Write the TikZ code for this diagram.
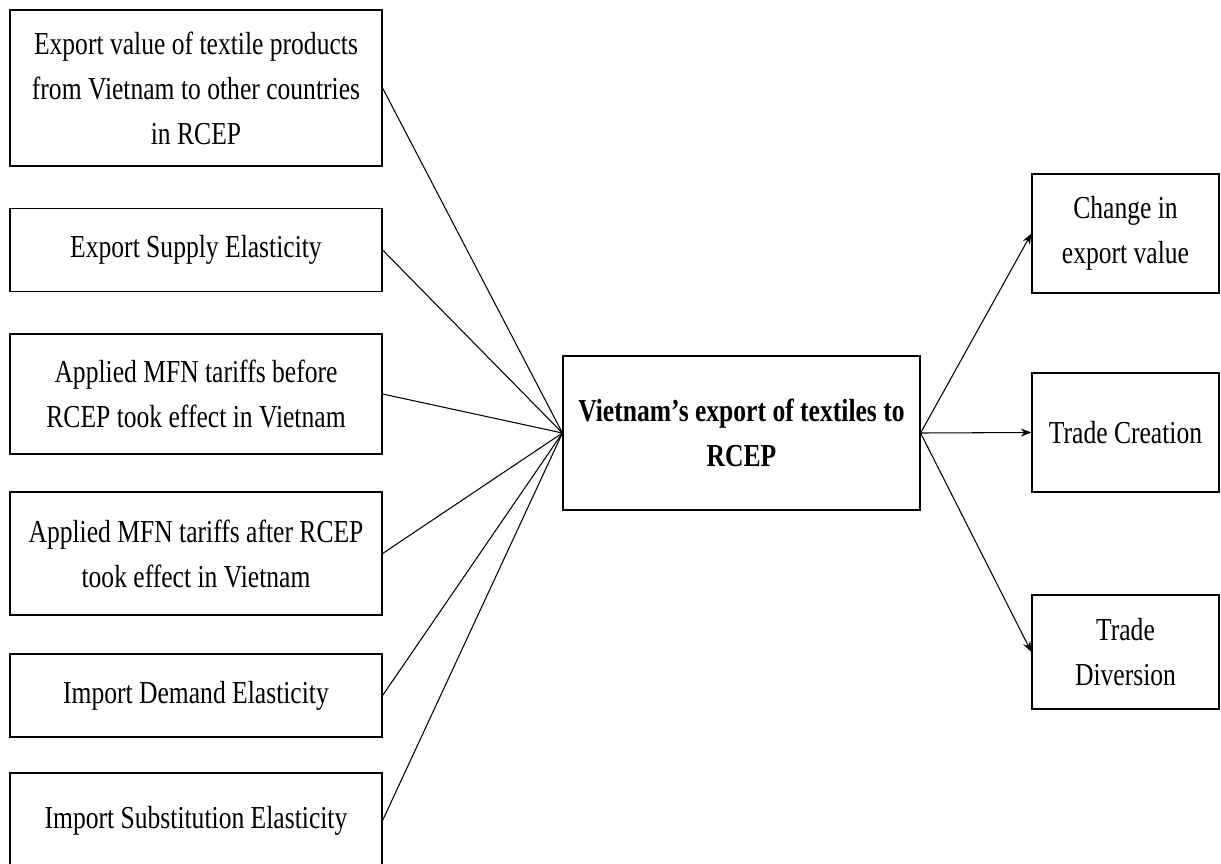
\documentclass[tikz,border=0pt]{standalone}
\usepackage{fontspec}
\setmainfont[FakeStretch=0.8]{Liberation Serif}
\usetikzlibrary{arrows.meta}

\begin{document}
\begin{tikzpicture}[x=0.02cm,y=-0.02cm,>={Stealth[length=6pt,width=4.5pt]},
  every node/.style={font=\fontsize{18.2}{25.6}\selectfont},
  box/.style={draw,line width=0.7pt,align=center,inner sep=0pt,minimum width=7.44cm},
  rbox/.style={draw,line width=0.7pt,align=center,inner sep=0pt,minimum width=3.74cm,minimum height=2.38cm}]
\useasboundingbox (0,0) rectangle (1221,863);
% inputs
\node[box,minimum height=3.12cm] (exval) at (196,88) {Export value of textile products\\from Vietnam to other countries\\in RCEP};
\node[box,minimum height=1.66cm] (supel) at (196,250) {Export Supply Elasticity};
\node[box,minimum height=2.40cm] (mfnb) at (196,394) {Applied MFN tariffs before\\RCEP took effect in Vietnam};
\node[box,minimum height=2.46cm] (mfna) at (196,553.5) {Applied MFN tariffs after RCEP\\took effect in Vietnam};
\node[box,minimum height=1.66cm] (demel) at (196,695.5) {Import Demand Elasticity};
\node[box,minimum height=1.90cm] (subel) at (196,820.5) {Import Substitution Elasticity};
% model
\node[draw,line width=0.7pt,align=center,inner sep=0pt,minimum width=7.14cm,minimum height=3.08cm,
  font=\fontsize{18.2}{25.6}\selectfont\bfseries] (hub) at (741.5,433) {Vietnam’s export of textiles to\\RCEP};
% outputs
\node[rbox] (chg) at (1125.5,233.5) {Change in\\export value};
\node[rbox] (tcr) at (1125.5,432.5) {Trade Creation};
\node[rbox,minimum height=2.28cm] (tdv) at (1125.5,652) {Trade\\Diversion};
\foreach \n in {exval,supel,mfnb,mfna,demel,subel}
\draw[line width=0.6pt] (\n.east) -- (hub.west);
\foreach \n in {chg,tcr,tdv}
\draw[->,line width=0.6pt] (hub.east) -- (\n.west);
\end{tikzpicture}
\end{document}
